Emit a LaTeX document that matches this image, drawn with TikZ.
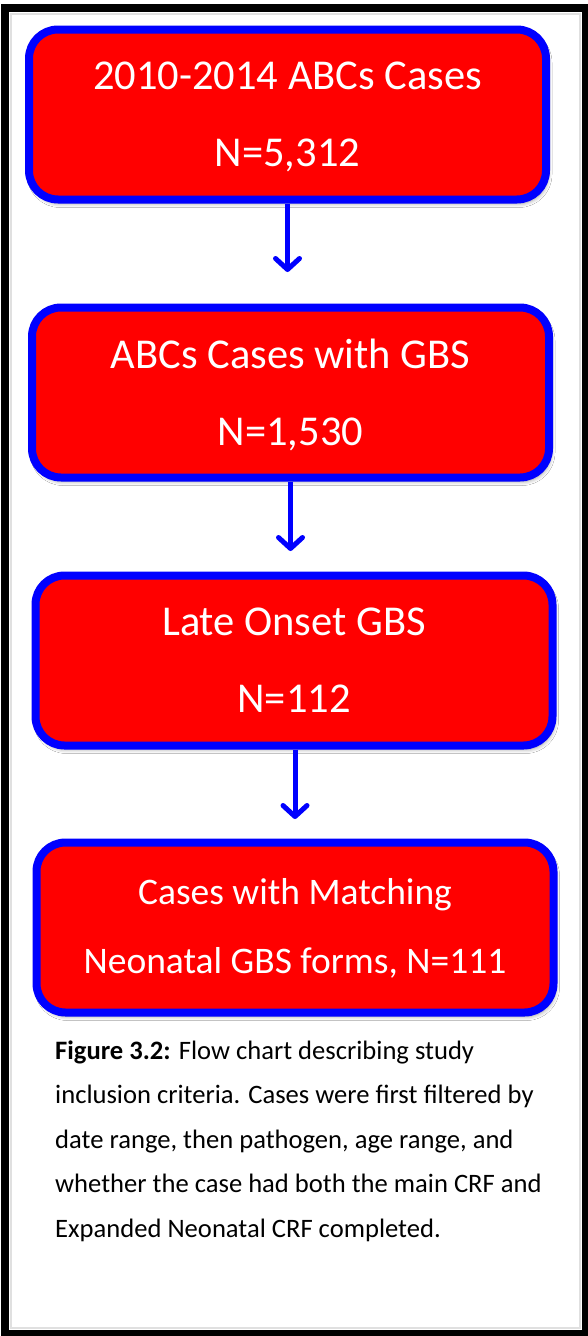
\documentclass[tikz,border=0pt]{standalone}
\usepackage{fontspec}
\setmainfont{Carlito}
\usetikzlibrary{arrows.meta,shadows.blur}

\tikzset{
  stage/.style={draw=blue, fill=red, line width=8pt, rounded corners=29pt,
    minimum width=517pt, minimum height=170pt, inner sep=0pt, text depth=-14pt,
    text=white, align=center, font=\fontsize{42.5}{77}\selectfont,
    blur shadow={shadow xshift=2pt, shadow yshift=-4pt,
      shadow blur radius=4pt, shadow opacity=40}},
  flow/.style={draw=blue, line width=5pt,
    -{Straight Barb[length=11pt, width=24pt, round]}},
  note/.style={anchor=base west, inner sep=0pt, font=\fontsize{26.6}{30}\selectfont}
}

\begin{document}
\begin{tikzpicture}[x=1pt, y=-1pt]

        \useasboundingbox (0,0) rectangle (588,1336);
        \fill[white] (0,0) rectangle (588,1336);

        % outer frame
        \draw[black!12, line width=2pt] (11,14) rectangle (580,1328);
        \draw[line width=8pt] (5,8) rectangle (586,1334);

        % the four stages
        \node[stage] (all)   at (287.5,114.5) {2010-2014 ABCs Cases\\N=5,312};
        \node[stage] (gbs)   at (290.5,392.5) {ABCs Cases with GBS\\N=1,530};
        \node[stage] (late)  at (294,660.5)   {Late Onset GBS\\N=112};
        \node[stage, font=\fontsize{37.5}{69}\selectfont, text depth=4pt]
                     (forms) at (295,927.5)   {Cases with Matching\\Neonatal GBS forms, N=111};

        \coordinate (t1) at (287.5,272);
        \coordinate (t2) at (290.5,551);
        \coordinate (t3) at (295,819);

        \draw[flow] (all.south) -- (t1);
        \draw[flow] (gbs.south) -- (t2);
        \draw[flow] (late.south -| t3) -- (t3);

        % caption
        \node[note] (cap1) at (55,1059)   {\textbf{Figure 3.2:} Flow chart describing study};
        \node[note] (cap2) at (55,1103.5) {inclusion criteria. Cases were first filtered by};
        \node[note] (cap3) at (55,1148)   {date range, then pathogen, age range, and};
        \node[note] (cap4) at (55,1192.5) {whether the case had both the main CRF and};
        \node[note] (cap5) at (55,1237)   {Expanded Neonatal CRF completed.};
    \end{tikzpicture}
\end{document}
